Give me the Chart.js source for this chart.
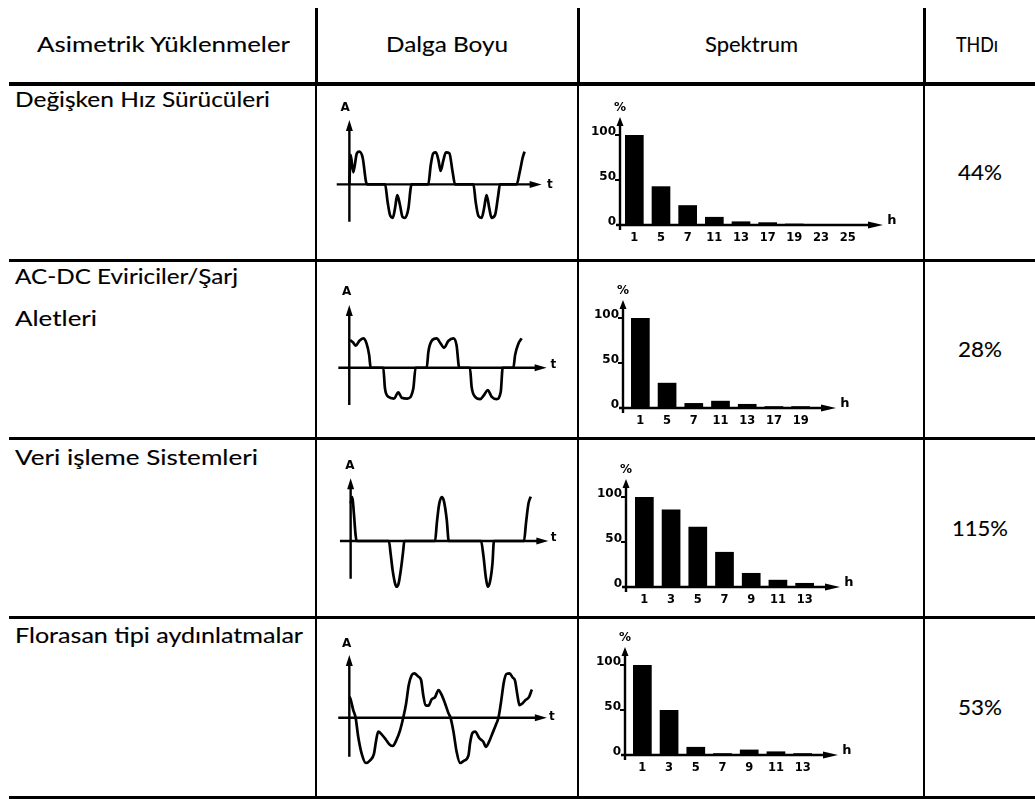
<!DOCTYPE html>
<html>
<head>
<meta charset="utf-8">
<script src="https://cdn.jsdelivr.net/npm/chart.js@4.4.1/dist/chart.umd.min.js"></script>
<style>
  body { margin: 0; background: #fff; }
  #page { position: relative; width: 1035px; height: 799px; overflow: hidden; font-family: Lato, sans-serif; color: #000; }
  .ln { position: absolute; background: #000; }
  .tx { position: absolute; white-space: nowrap; line-height: 1; transform-origin: 0 0; -webkit-text-stroke: 0.12px #000; }
  canvas { position: absolute; }
</style>
</head>
<body>
<div id="page"></div>
<script>
// table text
const headers = ["Asimetrik Yüklenmeler", "Dalga Boyu", "Spektrum", "THDı"];
const loads = [["Değişken Hız Sürücüleri"], ["AC-DC Eviriciler/Şarj", "Aletleri"], ["Veri işleme Sistemleri"], ["Florasan tipi aydınlatmalar"]];
const thd = [44, 28, 115, 53];

// spectrum: harmonic order -> amplitude in % of fundamental
const harm1 = ["1", "5", "7", "11", "13", "17", "19", "23", "25"];
const spec1 = [100, 43, 22, 9, 4, 3, 1.5, 0, 0];
const harm2 = ["1", "5", "7", "11", "13", "17", "19"];
const spec2 = [100, 28, 5.5, 8, 4.5, 2, 2];
const harm3 = ["1", "3", "5", "7", "9", "11", "13"];
const spec3 = [100, 86, 67, 39, 15.6, 8, 4.5];
const harm4 = ["1", "3", "5", "7", "9", "11", "13"];
const spec4 = [100, 50, 9, 2, 6, 4, 2];
const specTicks = [0, 50, 100];

// current waveforms: [t in degrees, A in % of peak]
const wave1 = [[0,0],[5,90],[16,37],[30,95],[40,100],[54,80],[67,8],[73,0],[144,0],[154,-53],[164,-94],[175,-102],[184,-73],[193,-33],[204,-63],[214,-99],[224,-102],[238,-73],[247,-12],[251,0],[318,0],[328,59],[338,95],[349,98],[359,74],[368,41],[379,74],[389,98],[403,95],[416,39],[426,0],[500,0],[509,-53],[520,-96],[533,-102],[543,-73],[553,-33],[564,-73],[573,-102],[587,-94],[600,-33],[607,0],[674,0],[687,39],[698,80],[706,100]];
const wave2 = [[3,94],[16,86],[27,75],[41,91],[58,100],[71,83],[82,43],[88,0],[140,0],[147,-70],[161,-99],[184,-105],[202,-84],[216,-102],[239,-105],[264,-70],[273,0],[319,0],[326,55],[339,91],[360,100],[376,83],[390,68],[408,91],[429,100],[442,77],[453,0],[497,0],[504,-65],[518,-99],[539,-107],[555,-93],[570,-76],[587,-99],[607,-107],[624,-82],[632,0],[676,0],[683,43],[697,83],[710,100]];
const wave3 = [[0,84],[7,98],[13,62],[20,13],[24,0],[154,0],[161,-28],[169,-65],[179,-95],[185,-102],[193,-95],[203,-61],[212,-20],[216,0],[340,0],[347,40],[356,81],[367,98],[376,88],[387,47],[395,0],[525,0],[535,-35],[544,-80],[552,-102],[561,-91],[571,-50],[577,0],[698,0],[706,40],[716,84],[725,99]];
const wave4 = [[0,47],[5,41],[15,17],[24,0],[34,-43],[47,-80],[63,-101],[79,-95],[94,-80],[101,-54],[110,-31],[123,-37],[138,-48],[155,-61],[165,-63],[178,-51],[193,-28],[205,0],[216,32],[226,73],[237,95],[247,99],[262,92],[273,84],[281,51],[290,28],[301,27],[313,41],[326,46],[339,62],[351,51],[364,32],[377,10],[385,0],[396,-31],[408,-76],[421,-101],[436,-96],[453,-84],[459,-57],[468,-34],[478,-31],[495,-46],[510,-54],[519,-65],[531,-54],[544,-35],[557,-16],[567,0],[577,36],[588,81],[598,98],[609,99],[621,90],[630,83],[639,51],[647,28],[658,32],[671,40],[683,46],[694,63]];

Chart.defaults.animation = false;
Chart.defaults.devicePixelRatio = 1;

const page = document.getElementById('page');

function rect(x, y, w, h) {
  const d = document.createElement('div');
  d.className = 'ln';
  Object.assign(d.style, { left: x + 'px', top: y + 'px', width: w + 'px', height: h + 'px' });
  page.appendChild(d);
}

// text stretched horizontally to the width it has in the scan
function text(str, x, top, size, fitW, center) {
  const d = document.createElement('div');
  d.className = 'tx';
  d.textContent = str;
  d.style.fontSize = size + 'px';
  d.style.top = top + 'px';
  page.appendChild(d);
  const w = d.getBoundingClientRect().width;
  d.style.transform = 'scaleX(' + (fitW / w) + ')';
  d.style.left = (center ? x - fitW / 2 : x) + 'px';
}

function canvasAt(l, t, w, h) {
  const c = document.createElement('canvas');
  c.width = w; c.height = h;
  c.style.left = l + 'px'; c.style.top = t + 'px';
  page.appendChild(c);
  return c;
}

// grid lines
const colX = [316, 578, 924];
colX.forEach(x => { rect(x - 1.5, 8, 3, 77); rect(x - 1, 85, 2, 714); });
rect(9, 82, 1026, 4);
[259, 437, 616, 796].forEach(y => rect(9, y, 1026, 3));

// header + first column + THD column
text(headers[0], 37, 33, 21, 253, false);
text(headers[1], 447, 33, 21, 122, true);
text(headers[2], 751, 33, 21, 93, true);
text(headers[3], 977, 33, 21, 42, true);

const rowTop = [88.5, 265.5, 447, 625];
const lineW = [[255], [223, 82], [243], [288]];
const rowMid = [172.5, 349.5, 528.5, 708];
loads.forEach((lines, i) => {
  lines.forEach((s, j) => text(s, 15, rowTop[i] + j * 42, 20.5, lineW[i][j], false));
  const v = thd[i] + '%';
  text(v, 980, rowMid[i] - 11, 20.5, v.length > 3 ? 56 : 44, true);
});

// axes of the waveform sketches
const waveAxes = {
  id: 'waveAxes',
  beforeDatasetsDraw(chart, args, o) {
    const { ctx, scales: { x, y } } = chart;
    const x0 = x.getPixelForValue(0), y0 = y.getPixelForValue(0);
    const xa = x.getPixelForValue(o.ax[0]), xb = x.getPixelForValue(o.ax[1]);
    const ya = y.getPixelForValue(o.ay[0]), yb = y.getPixelForValue(o.ay[1]);
    ctx.save();
    ctx.strokeStyle = ctx.fillStyle = '#000';
    ctx.lineWidth = 2.4;
    ctx.beginPath();
    ctx.moveTo(xa, y0); ctx.lineTo(xb - 8, y0);
    ctx.moveTo(x0, ya); ctx.lineTo(x0, yb + 8);
    ctx.stroke();
    ctx.beginPath();
    ctx.moveTo(xb, y0); ctx.lineTo(xb - 12, y0 - 3.5); ctx.lineTo(xb - 12, y0 + 3.5); ctx.closePath();
    ctx.moveTo(x0, yb); ctx.lineTo(x0 - 3.5, yb + 11); ctx.lineTo(x0 + 3.5, yb + 11); ctx.closePath();
    ctx.fill();
    ctx.font = 'bold 12px "DejaVu Sans"';
    ctx.textAlign = 'center'; ctx.textBaseline = 'middle';
    ctx.fillText('A', x.getPixelForValue(o.A[0]), y.getPixelForValue(o.A[1]));
    ctx.fillText('t', x.getPixelForValue(o.T[0]), y.getPixelForValue(o.T[1]));
    ctx.restore();
  }
};

const waveBoxes = [
  { l: 333, t: 97, w: 227, h: 145, x: [-66, 849], y: [-176, 267], ax: [-51, 775], ay: [-114, 197], A: [-17, 233], T: [808, 0] },
  { l: 333, t: 270, w: 227, h: 145, x: [-67, 868], y: [-161, 333], ax: [-45, 813], ay: [-127, 214], A: [-11, 259], T: [841, 9] },
  { l: 333, t: 455, w: 232, h: 142, x: [-71, 863], y: [-125, 192], ax: [-43, 796], ay: [-84, 140], A: [-3, 168], T: [817, 6] },
  { l: 333, t: 630, w: 227, h: 150, x: [-62, 801], y: [-139, 196], ax: [-42, 751], ay: [-87, 140], A: [-10, 166], T: [770, 2] }
];

[wave1, wave2, wave3, wave4].forEach((wave, i) => {
  const b = waveBoxes[i];
  new Chart(canvasAt(b.l, b.t, b.w, b.h), {
    type: 'line',
    data: { datasets: [{ data: wave.map(p => ({ x: p[0], y: p[1] })), borderColor: '#000', borderWidth: 2.7, pointRadius: 0, cubicInterpolationMode: 'monotone' }] },
    options: {
      responsive: false,
      layout: { padding: 0 },
      plugins: { legend: { display: false }, tooltip: { enabled: false }, waveAxes: b },
      scales: {
        x: { type: 'linear', display: false, min: b.x[0], max: b.x[1] },
        y: { display: false, min: b.y[0], max: b.y[1] }
      }
    },
    plugins: [waveAxes]
  });
});

// axes of the spectrum sketches
const specAxes = {
  id: 'specAxes',
  afterDatasetsDraw(chart, args, o) {
    const { ctx, chartArea: a, scales: { y } } = chart;
    const ax = a.left - o.gap, y0 = y.getPixelForValue(0), yt = y.getPixelForValue(y.max);
    const xt = a.right + 22;
    ctx.save();
    ctx.strokeStyle = ctx.fillStyle = '#000';
    ctx.lineWidth = 2.4;
    ctx.beginPath();
    ctx.moveTo(ax - 4, y0); ctx.lineTo(xt - 10, y0);
    ctx.moveTo(ax, y0 + 5); ctx.lineTo(ax, yt + 7);
    ctx.stroke();
    ctx.beginPath();
    ctx.moveTo(xt, y0); ctx.lineTo(xt - 15, y0 - 3.5); ctx.lineTo(xt - 15, y0 + 3.5); ctx.closePath();
    ctx.moveTo(ax, yt); ctx.lineTo(ax - 3.5, yt + 9); ctx.lineTo(ax + 3.5, yt + 9); ctx.closePath();
    ctx.fill();
    specTicks.slice(1).forEach(v => ctx.fillRect(ax - 5, y.getPixelForValue(v) - 1, 5, 2));
    ctx.font = 'bold 12px "DejaVu Sans"';
    ctx.textAlign = 'center'; ctx.textBaseline = 'middle';
    ctx.fillText('%', ax, yt - 9);
    ctx.font = 'bold 13px "DejaVu Sans"';
    ctx.fillText('h', xt + 9, y0 - 4);
    ctx.restore();
  }
};

const specBoxes = [{ l: 581, t: 89, gap: 1 }, { l: 587, t: 272, gap: 4 }, { l: 591, t: 451, gap: 5 }, { l: 589, t: 619, gap: 4 }];

[[harm1, spec1], [harm2, spec2], [harm3, spec3], [harm4, spec4]].forEach(([labels, values], i) => {
  const b = specBoxes[i];
  const w = Math.round(labels.length * 80 / 3) + 95;
  new Chart(canvasAt(b.l, b.t, w, 160), {
    type: 'bar',
    data: { labels: labels, datasets: [{ data: values, backgroundColor: '#000', barPercentage: 0.7, categoryPercentage: 1 }] },
    options: {
      responsive: false,
      layout: { padding: { left: 2, top: 28, right: 55, bottom: 4 } },
      plugins: { legend: { display: false }, tooltip: { enabled: false }, specAxes: { gap: b.gap } },
      scales: {
        x: {
          afterFit(s) { s.height = 20; },
          grid: { display: false, drawTicks: false },
          border: { display: false },
          ticks: { color: '#000', font: { family: 'DejaVu Sans', weight: 'bold', size: 11.5 }, padding: 6, maxRotation: 0, autoSkip: false }
        },
        y: {
          min: 0, max: 120,
          afterFit(s) { s.width = 38; },
          afterBuildTicks(s) { s.ticks = specTicks.map(v => ({ value: v })); },
          grid: { display: false, drawTicks: false },
          border: { display: false },
          ticks: { color: '#000', font: { family: 'DejaVu Sans', weight: 'bold', size: 12 }, padding: b.gap + 4, labelOffset: -3 }
        }
      }
    },
    plugins: [specAxes]
  });
});
</script>
</body>
</html>
